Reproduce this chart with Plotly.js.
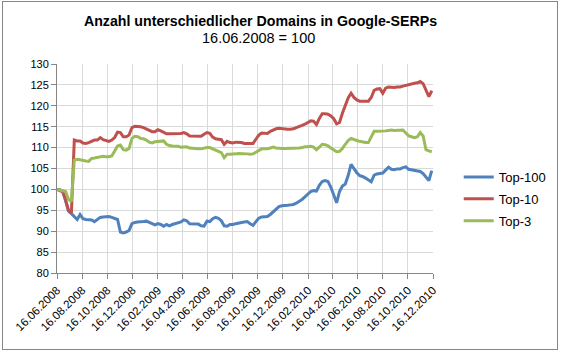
<!DOCTYPE html>
<html>
<head>
<meta charset="utf-8">
<script src="https://cdn.plot.ly/plotly-3.0.1.min.js"></script>
<style>
  html, body { margin: 0; padding: 0; background: #fff; }
  #wrap { position: relative; width: 563px; height: 353px; }
  #chart { position: absolute; left: 0; top: 0; width: 563px; height: 353px; }
  #frame { position: absolute; left: 2px; top: 1px; width: 554px; height: 347px; border: 1px solid #868686; pointer-events: none; }
</style>
</head>
<body>
<div id="wrap"><div id="chart"></div><div id="frame"></div></div>
<script>
// Weekly series, starting 16.06.2008 (index 100 = 16.06.2008)
const startDate = '2008-06-16';
const seriesNames = ['Top-100', 'Top-10', 'Top-3'];
const top100 = [100, 99.9, 99.6, 97, 94.8, 94.2, 93.5, 92.8, 94.0, 93.0,
  92.8, 92.8, 92.7, 92.3, 92.8, 93.3, 93.4, 93.4, 93.5, 93.3,
  93.0, 92.8, 89.8, 89.6, 89.8, 90.2, 91.8, 92.1, 92.2, 92.2,
  92.3, 92.4, 92.0, 91.8, 91.5, 91.8, 91.6, 91.2, 91.6, 91.3,
  91.6, 91.8, 91.9, 92.2, 92.7, 92.5, 91.8, 91.8, 91.8, 91.7,
  91.3, 91.2, 92.4, 92.3, 93.0, 93.3, 93.1, 92.5, 91.3, 91.2,
  91.6, 91.6, 91.8, 92.0, 92.1, 92.2, 92.3, 91.8, 91.4, 92.3,
  93.1, 93.4, 93.5, 93.5, 94.0, 94.7, 95.3, 95.9, 96.1, 96.1,
  96.2, 96.3, 96.4, 96.7, 97.1, 97.6, 98.2, 98.9, 99.5, 99.7,
  99.6, 101.0, 101.9, 102.1, 101.9, 100.5, 98.7, 96.8, 99.5, 100.8,
  101.3, 103.3, 106.0, 104.9, 104.0, 103.3, 103.1, 102.7, 102.2, 101.8,
  103.4, 103.7, 103.8, 103.9, 104.6, 105.3, 104.8, 104.7, 104.9, 104.9,
  105.2, 105.4, 104.8, 104.7, 104.6, 104.5, 104.3, 103.8, 103.0, 102.1, 104.5];
const top10 = [100, 99.7, 99.4, 97.5, 94.9, 94.4, 111.8, 111.6, 111.6, 111.1,
  111.0, 111.2, 111.6, 111.8, 111.8, 112.4, 111.9, 111.7, 111.5, 111.8,
  112.4, 113.7, 113.6, 112.6, 112.6, 113.0, 114.8, 115.1, 115.1, 115.0,
  114.8, 114.5, 114.1, 113.8, 113.8, 114.3, 114.0, 113.6, 113.3, 113.3,
  113.3, 113.3, 113.3, 113.4, 113.6, 113.3, 112.8, 112.8, 112.8, 112.7,
  112.7, 113.2, 113.6, 113.4, 112.5, 112.1, 112.0, 111.9, 110.8, 111.5,
  111.2, 111.1, 111.3, 111.3, 111.2, 111.0, 111.0, 110.9, 111.0, 112.0,
  113.0, 113.5, 113.4, 113.4, 113.9, 114.3, 114.5, 114.6, 114.5, 114.4,
  114.4, 114.4, 114.5, 114.8, 115.0, 115.3, 115.6, 116.0, 116.4, 116.3,
  115.5, 117.0, 118.1, 118.1, 118.0, 117.6, 116.9, 115.7, 116.0, 118.2,
  120.0, 121.9, 123.0, 122.0, 121.4, 121.1, 121.1, 121.1, 121.1, 122.0,
  123.7, 124.0, 124.1, 123.0, 124.2, 124.5, 124.4, 124.4, 124.5, 124.5,
  124.7, 124.9, 125.0, 125.2, 125.4, 125.5, 125.8, 125.3, 123.5, 122.2, 123.6];
const top3 = [100, 99.8, 99.7, 99.5, 97.6, 97.1, 107.0, 107.2, 107.1, 106.9,
  106.8, 106.7, 107.4, 107.5, 107.6, 107.7, 107.9, 107.8, 107.8, 108.0,
  109.3, 110.4, 110.6, 109.5, 109.4, 109.8, 112.2, 112.7, 112.6, 112.2,
  112.1, 111.8, 111.3, 111.1, 111.4, 111.5, 111.5, 111.6, 110.8, 110.5,
  110.4, 110.4, 110.3, 110.1, 110.2, 110.2, 109.9, 109.8, 109.7, 109.7,
  109.7, 109.9, 110.0, 110.0, 109.7, 109.4, 109.2, 108.8, 107.6, 108.4,
  108.4, 108.4, 108.5, 108.6, 108.6, 108.6, 108.5, 108.4, 108.5, 108.9,
  109.4, 109.7, 109.7, 109.7, 109.9, 110.1, 109.9, 109.8, 109.8, 109.8,
  109.8, 109.8, 109.8, 109.9, 109.9, 110.0, 110.2, 110.2, 110.3, 110.1,
  109.5, 110.1, 110.8, 110.7, 110.4, 109.9, 109.4, 109.0, 109.1, 109.8,
  110.8, 111.7, 112.2, 111.9, 111.7, 111.5, 111.3, 111.2, 111.2, 112.5,
  113.9, 113.9, 113.9, 113.9, 114.0, 114.1, 114.2, 114.1, 114.1, 114.2,
  114.2, 113.5, 112.8, 112.6, 112.4, 112.6, 113.6, 112.8, 109.5, 109.2, 109.0];
const tickDates = ['2008-06-16','2008-08-16','2008-10-16','2008-12-16',
  '2009-02-16','2009-04-16','2009-06-16','2009-08-16','2009-10-16','2009-12-16',
  '2010-02-16','2010-04-16','2010-06-16','2010-08-16','2010-10-16','2010-12-16'];
const tickLabels = ['16.06.2008','16.08.2008','16.10.2008','16.12.2008',
  '16.02.2009','16.04.2009','16.06.2009','16.08.2009','16.10.2009','16.12.2009',
  '16.02.2010','16.04.2010','16.06.2010','16.08.2010','16.10.2010','16.12.2010'];

const t0 = Date.parse(startDate + 'T00:00:00Z');
const dates = top100.map((_, i) => new Date(t0 + i * 7 * 86400000).toISOString().slice(0, 10));

const colors = ['#4F81BD', '#C0504D', '#9BBB59'];
const values = [top100, top10, top3];
const FONT = 'Liberation Sans, Arial, sans-serif';

const traces = values.map((v, k) => ({
  x: dates, y: v, type: 'scatter', mode: 'lines', name: seriesNames[k],
  legendgroup: 'g' + k,
  line: { color: colors[k], width: 3 }
}));

const layout = {
  width: 563, height: 353,
  margin: { l: 57, r: 126, t: 64, b: 80, pad: 0 },
  paper_bgcolor: '#ffffff', plot_bgcolor: '#ffffff',
  font: { family: FONT, color: '#000' },
  title: {
    text: '<b>Anzahl unterschiedlicher Domains in Google-SERPs</b>',
    font: { family: FONT, size: 14.2, color: '#000' },
    xref: 'container', yref: 'container',
    x: 260.5 / 563, xanchor: 'center',
    y: 1 - 21 / 353, yanchor: 'middle'
  },
  annotations: [{
    text: '16.06.2008 = 100', showarrow: false,
    xref: 'paper', yref: 'paper',
    x: (260.5 - 57) / 380, xanchor: 'center',
    y: (273 - 38) / 209, yanchor: 'middle',
    font: { family: FONT, size: 14.5, color: '#000' }
  }],
  xaxis: {
    type: 'date',
    range: ['2008-06-16', '2010-12-16'],
    tickmode: 'array', tickvals: tickDates, ticktext: tickLabels,
    tickangle: -45,
    tickfont: { family: FONT, size: 11.5, color: '#000' },
    ticks: 'outside', ticklen: 5, tickcolor: '#868686', tickwidth: 1,
    showline: true, linecolor: '#868686', linewidth: 1,
    showgrid: true, gridcolor: '#d9d9d9', gridwidth: 1,
    zeroline: false, fixedrange: true
  },
  yaxis: {
    range: [80, 130], tickmode: 'linear', tick0: 80, dtick: 5,
    tickfont: { family: FONT, size: 11, color: '#000' },
    ticks: 'outside', ticklen: 5, tickcolor: '#868686', tickwidth: 1,
    showline: true, linecolor: '#868686', linewidth: 1,
    showgrid: true, gridcolor: '#d9d9d9', gridwidth: 1,
    zeroline: false, fixedrange: true
  },
  showlegend: true,
  legend: {
    x: (463 - 57) / 380, xanchor: 'left',
    y: (273 - 162) / 209, yanchor: 'top',
    font: { family: FONT, size: 13, color: '#000' },
    bgcolor: 'rgba(0,0,0,0)', borderwidth: 0,
    tracegroupgap: 2, traceorder: 'grouped'
  }
};

Plotly.newPlot('chart', traces, layout, { displayModeBar: false, staticPlot: true });
</script>
</body>
</html>
